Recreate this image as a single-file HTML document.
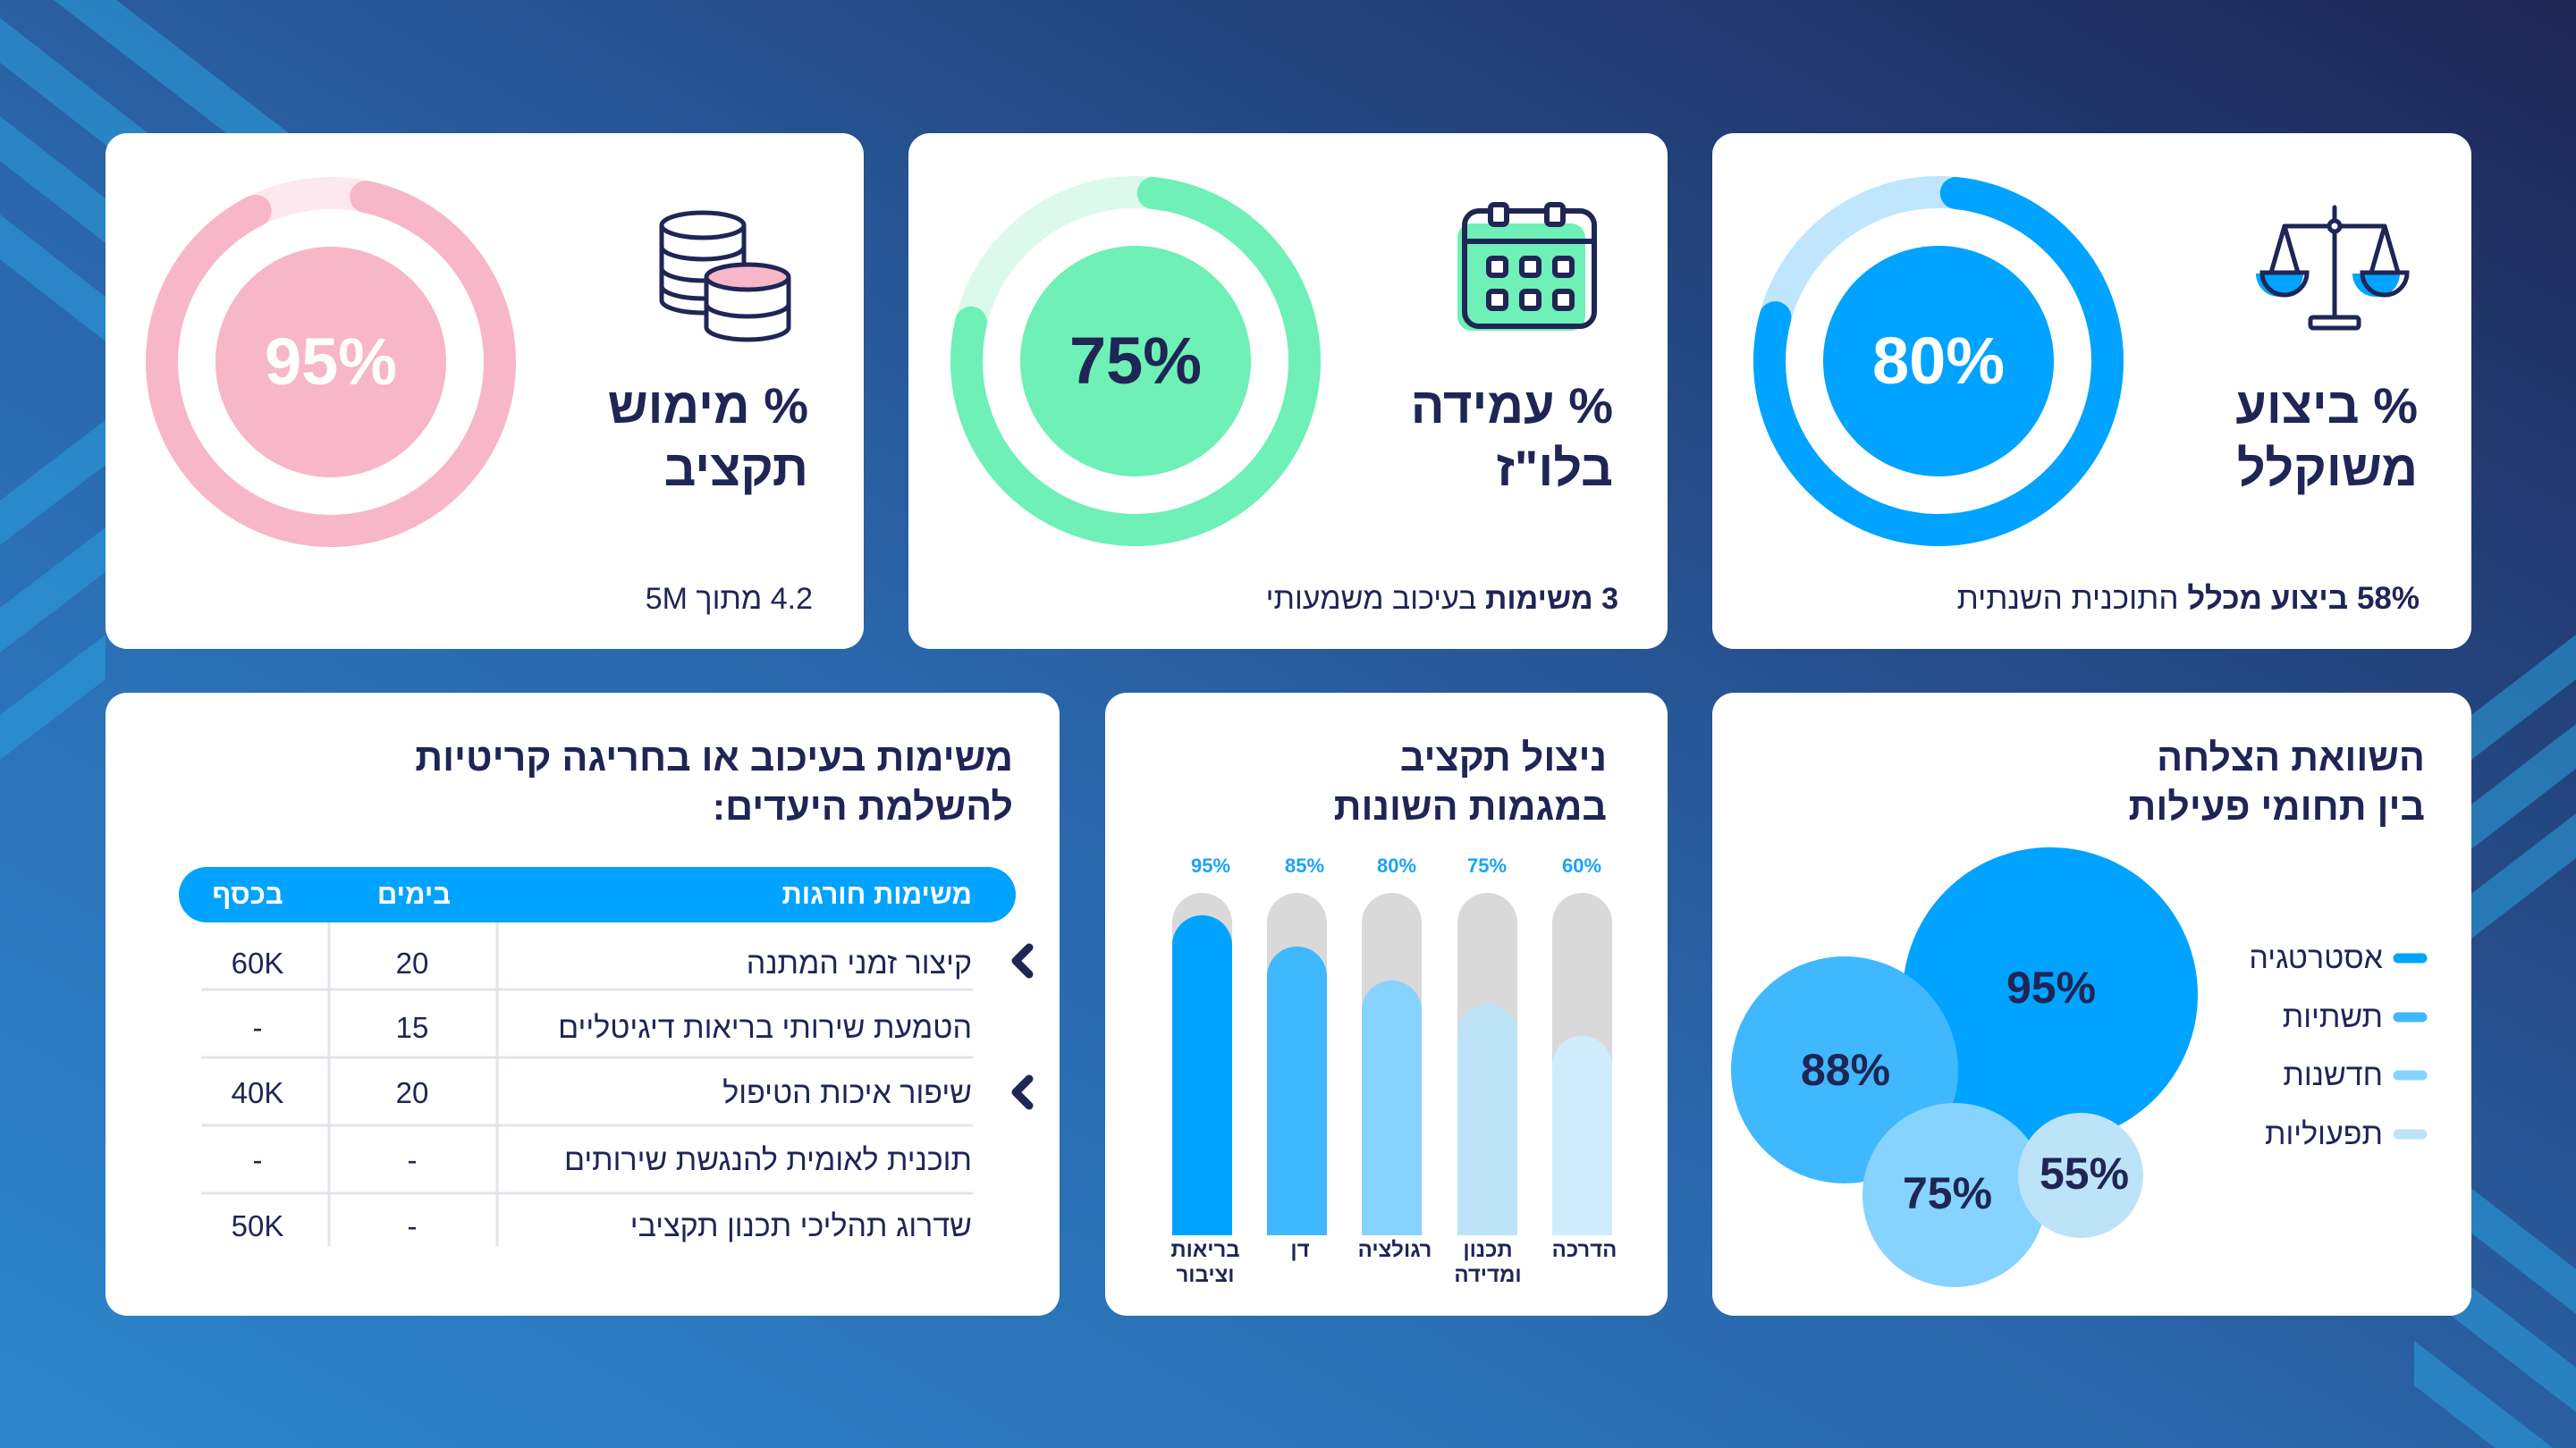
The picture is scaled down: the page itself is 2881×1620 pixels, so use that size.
<!DOCTYPE html>
<html><head><meta charset="utf-8"><style>
body{margin:0;width:2881px;height:1620px;overflow:hidden;font-family:"Liberation Sans","DejaVu Sans",sans-serif;}
svg{position:absolute;left:0;top:0}
.t{position:absolute;white-space:nowrap;direction:rtl;color:#1f2555}
.b{font-weight:bold}
.c{position:absolute;white-space:nowrap;transform:translateX(-50%);text-align:center;color:#1f2555}
</style></head><body>
<svg width="2881" height="1620" viewBox="0 0 2881 1620">
<defs>
<linearGradient id="bg" x1="0" y1="1" x2="1" y2="0">
<stop offset="0" stop-color="#2d86cc"/><stop offset="0.45" stop-color="#2a65aa"/><stop offset="1" stop-color="#1e2555"/>
</linearGradient>
</defs>
<rect width="2881" height="1620" fill="url(#bg)"/>
<g fill="#2aa0dc" opacity="0.55">
<polygon points="0,20 0,70 600,538 600,488"/>
<polygon points="0,130 0,180 600,648 600,598"/>
<polygon points="0,240 0,290 500,680 500,630"/>
<polygon points="60,0 130,0 700,440 630,440"/>
<polygon points="0,560 0,610 118,520 118,470"/>
<polygon points="0,680 0,730 118,640 118,590"/>
<polygon points="0,800 0,850 118,760 118,710"/>
<polygon points="2764,800 2764,850 2881,760 2881,710"/>
<polygon points="2764,900 2764,950 2881,860 2881,810"/>
<polygon points="2764,1000 2764,1050 2881,960 2881,910"/>
<polygon points="2700,1280 2700,1330 2881,1470 2881,1420"/>
<polygon points="2700,1390 2700,1440 2881,1580 2881,1530"/>
<polygon points="2700,1500 2700,1550 2881,1690 2881,1640"/>
</g>
<g fill="#fff">
<rect x="118" y="149" width="848" height="577" rx="24"/>
<rect x="1016" y="149" width="849" height="577" rx="24"/>
<rect x="1915" y="149" width="849" height="577" rx="24"/>
<rect x="118" y="775" width="1067" height="697" rx="24"/>
<rect x="1236" y="775" width="629" height="697" rx="24"/>
<rect x="1915" y="775" width="849" height="697" rx="24"/>
</g>
<circle cx="370" cy="405" r="189" fill="none" stroke="#fce8ee" stroke-width="36"/>
<circle cx="370" cy="405" r="189" fill="none" stroke="#f7b7c8" stroke-width="36" stroke-linecap="round" stroke-dasharray="1060 2000" transform="rotate(-78 370 405)"/>
<circle cx="370" cy="405" r="129" fill="#f7b7c8"/>
<circle cx="1270" cy="404" r="189" fill="none" stroke="#dcfaec" stroke-width="36"/>
<circle cx="1270" cy="404" r="189" fill="none" stroke="#6ef0b6" stroke-width="36" stroke-linecap="round" stroke-dasharray="914 2000" transform="rotate(-84 1270 404)"/>
<circle cx="1270" cy="404" r="129" fill="#6ef0b6"/>
<circle cx="2168" cy="404" r="189" fill="none" stroke="#bfe6fd" stroke-width="36"/>
<circle cx="2168" cy="404" r="189" fill="none" stroke="#00a3ff" stroke-width="36" stroke-linecap="round" stroke-dasharray="920 2000" transform="rotate(-84 2168 404)"/>
<circle cx="2168" cy="404" r="129" fill="#00a3ff"/>
<g stroke="#1f2555" stroke-width="5" fill="#fff">
<rect x="740" y="250" width="92" height="90" fill="#fff" stroke="none"/>
<rect x="740" y="265" width="92" height="40" fill="#f7b7c8" stroke="none"/>
<path d="M740,252 v84 a46,14 0 0 0 92,0 v-84" />
<path d="M740,276 a46,14 0 0 0 92,0 M740,300 a46,14 0 0 0 92,0 M740,320 a46,14 0 0 0 92,0"/>
<ellipse cx="786" cy="252" rx="46" ry="14"/>
<path d="M790,310 v56 a46,14 0 0 0 92,0 v-56" fill="#fff"/>
<path d="M790,340 a46,14 0 0 0 92,0"/>
<ellipse cx="836" cy="310" rx="46" ry="14" fill="#f7b7c8"/>
</g>
<rect x="1630" y="250" width="143" height="120" rx="16" fill="#6ef0b6"/>
<g stroke="#1f2555" stroke-width="6" fill="none">
<rect x="1638" y="236" width="145" height="129" rx="16"/>
<line x1="1638" y1="270" x2="1783" y2="270"/>
<rect x="1667" y="229" width="18" height="22" rx="4" fill="#fff"/>
<rect x="1730" y="229" width="18" height="22" rx="4" fill="#fff"/>
<g fill="#fff">
<rect x="1665" y="289" width="19" height="19" rx="4"/><rect x="1702" y="289" width="19" height="19" rx="4"/><rect x="1739" y="289" width="19" height="19" rx="4"/>
<rect x="1665" y="326" width="19" height="19" rx="4"/><rect x="1702" y="326" width="19" height="19" rx="4"/><rect x="1739" y="326" width="19" height="19" rx="4"/>
</g></g>
<path d="M2523,306 h53 a26,26 0 0 1 -26,26 a26,26 0 0 1 -27,-26z M2631,306 h53 a26,26 0 0 1 -26,26 a26,26 0 0 1 -27,-26z" fill="#00a3ff"/>
<g stroke="#1f2555" stroke-width="5" fill="none" stroke-linecap="round">
<line x1="2611" y1="232" x2="2611" y2="355"/>
<line x1="2555" y1="253" x2="2667" y2="253"/>
<circle cx="2611" cy="253" r="6" fill="#fff"/>
<path d="M2555,253 L2540,305 M2555,253 L2570,305 M2667,253 L2652,305 M2667,253 L2682,305"/>
<path d="M2530,305 h50 a25,25 0 0 1 -50,0z M2642,305 h50 a25,25 0 0 1 -50,0z"/>
<rect x="2584" y="355" width="54" height="12" rx="3"/>
</g>
<rect x="200" y="970" width="936" height="62" rx="31" fill="#00a3ff"/>
<g stroke="#e2e4ea" stroke-width="3">
<line x1="225" y1="1107" x2="1088" y2="1107"/><line x1="225" y1="1183" x2="1088" y2="1183"/>
<line x1="225" y1="1259" x2="1088" y2="1259"/><line x1="225" y1="1335" x2="1088" y2="1335"/>
<line x1="368" y1="1032" x2="368" y2="1394"/><line x1="556" y1="1032" x2="556" y2="1394"/>
</g>
<g stroke="#1f2555" stroke-width="9" fill="none" stroke-linecap="round" stroke-linejoin="round">
<path d="M1151,1060 L1136,1075 L1151,1090"/>
<path d="M1151,1207 L1136,1222 L1151,1237"/>
</g>
<g fill="#d9d9d9">
<rect x="1311" y="999" width="67" height="383" rx="33.5"/><rect x="1311" y="1040" width="67" height="342"/>
<rect x="1417" y="999" width="67" height="383" rx="33.5"/><rect x="1417" y="1040" width="67" height="342"/>
<rect x="1523" y="999" width="67" height="383" rx="33.5"/><rect x="1523" y="1040" width="67" height="342"/>
<rect x="1630" y="999" width="67" height="383" rx="33.5"/><rect x="1630" y="1040" width="67" height="342"/>
<rect x="1736" y="999" width="67" height="383" rx="33.5"/><rect x="1736" y="1040" width="67" height="342"/>
</g>
<rect x="1311" y="1024" width="67" height="358" rx="33.5" fill="#00a3ff"/><rect x="1311" y="1060" width="67" height="322" fill="#00a3ff"/>
<rect x="1417" y="1059" width="67" height="323" rx="33.5" fill="#40b8ff"/><rect x="1417" y="1095" width="67" height="287" fill="#40b8ff"/>
<rect x="1523" y="1097" width="67" height="285" rx="33.5" fill="#87d3ff"/><rect x="1523" y="1133" width="67" height="249" fill="#87d3ff"/>
<rect x="1630" y="1123" width="67" height="259" rx="33.5" fill="#bde3f8"/><rect x="1630" y="1159" width="67" height="223" fill="#bde3f8"/>
<rect x="1736" y="1159" width="67" height="223" rx="33.5" fill="#d0edfd"/><rect x="1736" y="1195" width="67" height="187" fill="#d0edfd"/>
<circle cx="2293" cy="1113" r="165" fill="#00a3ff"/>
<circle cx="2063" cy="1197" r="127" fill="#40b8ff"/>
<circle cx="2186" cy="1337" r="103" fill="#87d3ff"/>
<circle cx="2327" cy="1315" r="70" fill="#bde3f8"/>
<g stroke-width="11" stroke-linecap="round">
<line x1="2682" y1="1072" x2="2709" y2="1072" stroke="#00a3ff"/>
<line x1="2682" y1="1138" x2="2709" y2="1138" stroke="#40b8ff"/>
<line x1="2682" y1="1203" x2="2709" y2="1203" stroke="#87d3ff"/>
<line x1="2682" y1="1269" x2="2709" y2="1269" stroke="#bde3f8"/>
</g>
</svg>

<div class="c b" style="left:370px;top:362px;font-size:74px;line-height:86px;color:#fff">95%</div>
<div class="c b" style="left:1270px;top:361px;font-size:74px;line-height:86px;color:#1f2555">75%</div>
<div class="c b" style="left:2168px;top:361px;font-size:74px;line-height:86px;color:#fff">80%</div>

<div class="t b" style="right:1977px;top:419px;font-size:56px;line-height:70px">% מימוש<br>תקציב</div>
<div class="t b" style="right:1077px;top:419px;font-size:56px;line-height:70px">% עמידה<br>בלו"ז</div>
<div class="t b" style="right:177px;top:419px;font-size:56px;line-height:70px">% ביצוע<br>משוקלל</div>
<div class="t" style="right:1972px;top:650px;font-size:34px;line-height:40px">4.2 מתוך 5M</div>
<div class="t" style="right:1071px;top:650px;font-size:34px;line-height:40px"><b>3 משימות</b> בעיכוב משמעותי</div>
<div class="t" style="right:175px;top:650px;font-size:35px;line-height:40px"><b>58% ביצוע מכלל</b> התוכנית השנתית</div>

<div class="t b" style="right:1748px;top:821px;font-size:43px;line-height:55px">משימות בעיכוב או בחריגה קריטיות<br>להשלמת היעדים:</div>
<div class="t b" style="right:1084px;top:821px;font-size:43px;line-height:55px">ניצול תקציב<br>במגמות השונות</div>
<div class="t b" style="right:169px;top:821px;font-size:43px;line-height:55px">השוואת הצלחה<br>בין תחומי פעילות</div>

<div class="t b" style="right:1794px;top:983px;font-size:31px;line-height:36px;color:#fff">משימות חורגות</div>
<div class="c b" style="left:463px;top:983px;font-size:31px;line-height:36px;color:#fff">בימים</div>
<div class="c b" style="left:277px;top:983px;font-size:31px;line-height:36px;color:#fff">בכסף</div>
<div class="t" style="right:1794px;top:1058px;font-size:34px;line-height:40px">קיצור זמני המתנה</div>
<div class="t" style="right:1794px;top:1130px;font-size:34px;line-height:40px">הטמעת שירותי בריאות דיגיטליים</div>
<div class="t" style="right:1794px;top:1203px;font-size:34px;line-height:40px">שיפור איכות הטיפול</div>
<div class="t" style="right:1794px;top:1278px;font-size:34px;line-height:40px">תוכנית לאומית להנגשת שירותים</div>
<div class="t" style="right:1794px;top:1352px;font-size:34px;line-height:40px">שדרוג תהליכי תכנון תקציבי</div>
<div class="c" style="left:461px;top:1058px;font-size:33px;line-height:40px">20</div>
<div class="c" style="left:461px;top:1130px;font-size:33px;line-height:40px">15</div>
<div class="c" style="left:461px;top:1203px;font-size:33px;line-height:40px">20</div>
<div class="c" style="left:461px;top:1278px;font-size:33px;line-height:40px">-</div>
<div class="c" style="left:461px;top:1352px;font-size:33px;line-height:40px">-</div>
<div class="c" style="left:288px;top:1058px;font-size:33px;line-height:40px">60K</div>
<div class="c" style="left:288px;top:1130px;font-size:33px;line-height:40px">-</div>
<div class="c" style="left:288px;top:1203px;font-size:33px;line-height:40px">40K</div>
<div class="c" style="left:288px;top:1278px;font-size:33px;line-height:40px">-</div>
<div class="c" style="left:288px;top:1352px;font-size:33px;line-height:40px">50K</div>

<div class="c b" style="left:1354px;top:955px;font-size:22px;line-height:28px;color:#1aa3f7">95%</div>
<div class="c b" style="left:1459px;top:955px;font-size:22px;line-height:28px;color:#1aa3f7">85%</div>
<div class="c b" style="left:1562px;top:955px;font-size:22px;line-height:28px;color:#1aa3f7">80%</div>
<div class="c b" style="left:1663px;top:955px;font-size:22px;line-height:28px;color:#1aa3f7">75%</div>
<div class="c b" style="left:1769px;top:955px;font-size:22px;line-height:28px;color:#1aa3f7">60%</div>
<div class="c b" style="left:1348px;top:1385px;font-size:24px;line-height:28px;direction:rtl">בריאות<br>וציבור</div>
<div class="c b" style="left:1454px;top:1385px;font-size:24px;line-height:28px;direction:rtl">דן</div>
<div class="c b" style="left:1560px;top:1385px;font-size:24px;line-height:28px;direction:rtl">רגולציה</div>
<div class="c b" style="left:1664px;top:1385px;font-size:24px;line-height:28px;direction:rtl">תכנון<br>ומדידה</div>
<div class="c b" style="left:1772px;top:1385px;font-size:24px;line-height:28px;direction:rtl">הדרכה</div>

<div class="c b" style="left:2294px;top:1075px;font-size:50px;line-height:60px">95%</div>
<div class="c b" style="left:2064px;top:1167px;font-size:50px;line-height:60px">88%</div>
<div class="c b" style="left:2178px;top:1305px;font-size:50px;line-height:60px">75%</div>
<div class="c b" style="left:2331px;top:1283px;font-size:50px;line-height:60px">55%</div>
<div class="t" style="right:216px;top:1052px;font-size:34px;line-height:40px">אסטרטגיה</div>
<div class="t" style="right:216px;top:1118px;font-size:34px;line-height:40px">תשתיות</div>
<div class="t" style="right:216px;top:1183px;font-size:34px;line-height:40px">חדשנות</div>
<div class="t" style="right:216px;top:1249px;font-size:34px;line-height:40px">תפעוליות</div>
</body></html>
